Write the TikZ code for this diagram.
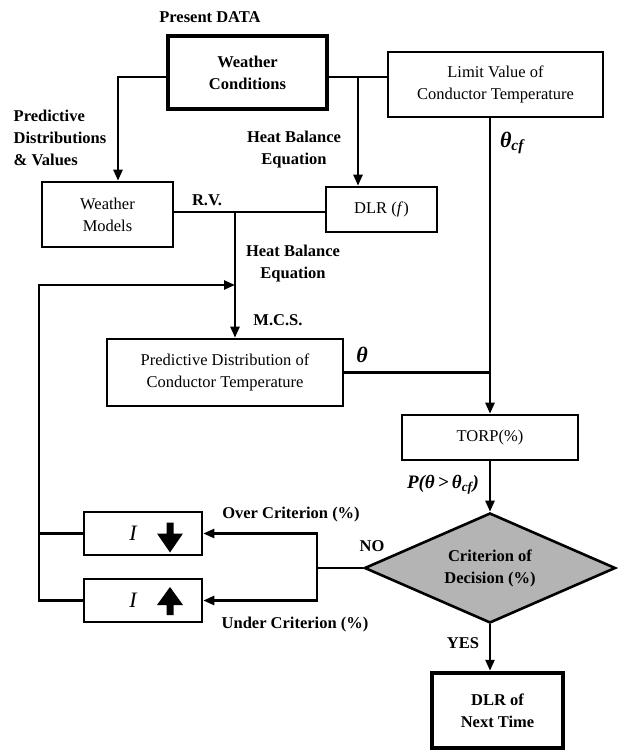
\documentclass[tikz,border=0pt]{standalone}
\usepackage{fontspec}
\setmainfont{Liberation Serif}
\usepackage{xcolor}
\definecolor{dGray}{HTML}{B4B4B4}
\usepackage{tikz}
\usetikzlibrary{arrows.meta, shapes.geometric, calc}
\tikzset{
  txt/.style={font=\fontsize{16.5}{22}\selectfont, align=center, inner sep=1pt},
  lbl/.style={font=\fontsize{16.5}{22}\selectfont\bfseries, align=center, inner sep=1pt},
  sym/.style={font=\fontsize{22}{24}\selectfont\bfseries\itshape, inner sep=1pt},
  box/.style={draw, rectangle, line width=2.6pt, txt},
  thickbox/.style={draw, rectangle, line width=4.5pt, lbl},
  crit/.style={draw, diamond, aspect=2.28, line width=2.6pt, fill=dGray,
    minimum width=251pt, minimum height=110pt, inner sep=0pt, lbl},
  conn/.style={line width=2.4pt},
  arr/.style={conn, -{Triangle[length=11pt,width=9pt]}}
}

\begin{document}
\begin{tikzpicture}[x=1pt,y=-1pt]
\useasboundingbox (0,0) rectangle (624,751);

% boxes
\node[thickbox, minimum width=159pt, minimum height=73pt] (wc) at (247.5,72.5) {Weather\\Conditions};
\node[box, minimum width=215pt, minimum height=65pt] (lim) at (495.5,84.5) {Limit Value of\\Conductor Temperature};
\node[box, minimum width=131pt, minimum height=65pt] (wm) at (107.5,214.5) {Weather\\Models};
\node[box, minimum width=111pt, minimum height=45pt] (dlr) at (381.5,209.5) {DLR (\textit{f})};
\node[box, minimum width=236pt, minimum height=67pt] (pred) at (225,372.5) {Predictive Distribution of\\Conductor Temperature};
\node[box, minimum width=176pt, minimum height=45pt] (torp) at (490,437.5) {TORP(\%)};
\node[crit] (crit) at (490,568) {Criterion of\\Decision (\%)};
\node[thickbox, minimum width=131pt, minimum height=75pt] (next) at (497.5,710.5) {DLR of\\Next Time};
\node[box, minimum width=118pt, minimum height=43pt] (idown) at (143,533.5) {};
\node[box, minimum width=118pt, minimum height=43pt] (iup) at (143,600.5) {};

% current symbols
\node[font=\fontsize{22}{24}\selectfont\itshape] (idownI) at (133,533.5) {I};
\node[font=\fontsize{22}{24}\selectfont\itshape] (iupI) at (133,600.5) {I};
\fill[shift={(idown.center)}] (23.5,-11) -- (30.5,-11) -- (30.5,0) -- (40,0) -- (27,19) -- (14,0) -- (23.5,0) -- cycle;
\fill[shift={(iup.center)}] (27,-13.5) -- (40,4.5) -- (30.5,4.5) -- (30.5,14.5) -- (23.5,14.5) -- (23.5,4.5) -- (14,4.5) -- cycle;

% junctions
\coordinate (j1) at (358,77);
\coordinate (rv) at (235,212);
\coordinate (fb) at (39,285);
\coordinate (no) at (317,568);

% connectors
\draw[conn] ([yshift=-4.5pt]wc.east) -- ([yshift=-4.5pt]wc.east -| lim.west);
\draw[arr] (j1) -- (j1 |- dlr.north);
\draw[arr] ([yshift=-4.5pt]wc.west) -| ([xshift=10.5pt]wm.north);
\draw[conn] (rv -| wm.east) -- (rv -| dlr.west);
\draw[arr] (rv) -- (rv |- pred.north);
\draw[conn] (pred.east) -- (pred.east -| torp.north);
\draw[arr] (torp.north |- lim.south) -- (torp.north);
\draw[arr] (torp.south) -- (crit.north);
\draw[arr] (crit.south) -- (crit.south |- next.north);
\draw[conn] (crit.west) -- (no);
\draw[arr] (no) |- (idown.east);
\draw[arr] (no) |- (iup.east);
\draw[conn] (idown.west) -- (idown.west -| fb);
\draw[arr] (iup.west) -| (fb) -- (fb -| rv);

% labels
\node[lbl] (pdata) at (210,17) {Present DATA};
\node[lbl, align=left] (pdv) at (60,137.5) {Predictive\\Distributions\\\& Values};
\node[lbl] (hbe1) at (294,150) {Heat Balance\\Equation};
\node[lbl] (rvl) at (207,200) {R.V.};
\node[lbl] (hbe2) at (293,264) {Heat Balance\\Equation};
\node[lbl] (mcs) at (278,320) {M.C.S.};
\node[sym] (thcf) at (512,143) {θ\textsubscript{cf}};
\node[sym] (th) at (362,355) {θ};
\node[sym, font=\fontsize{19}{22}\selectfont\bfseries\itshape] (pth) at (443,485) {P(θ\,>\,θ\textsubscript{cf})};
\node[lbl] (over) at (291,515) {Over Criterion (\%)};
\node[lbl] (under) at (295,625) {Under Criterion (\%)};
\node[lbl] (nol) at (372,546) {NO};
\node[lbl] (yesl) at (463,643) {YES};
\end{tikzpicture}
\end{document}
